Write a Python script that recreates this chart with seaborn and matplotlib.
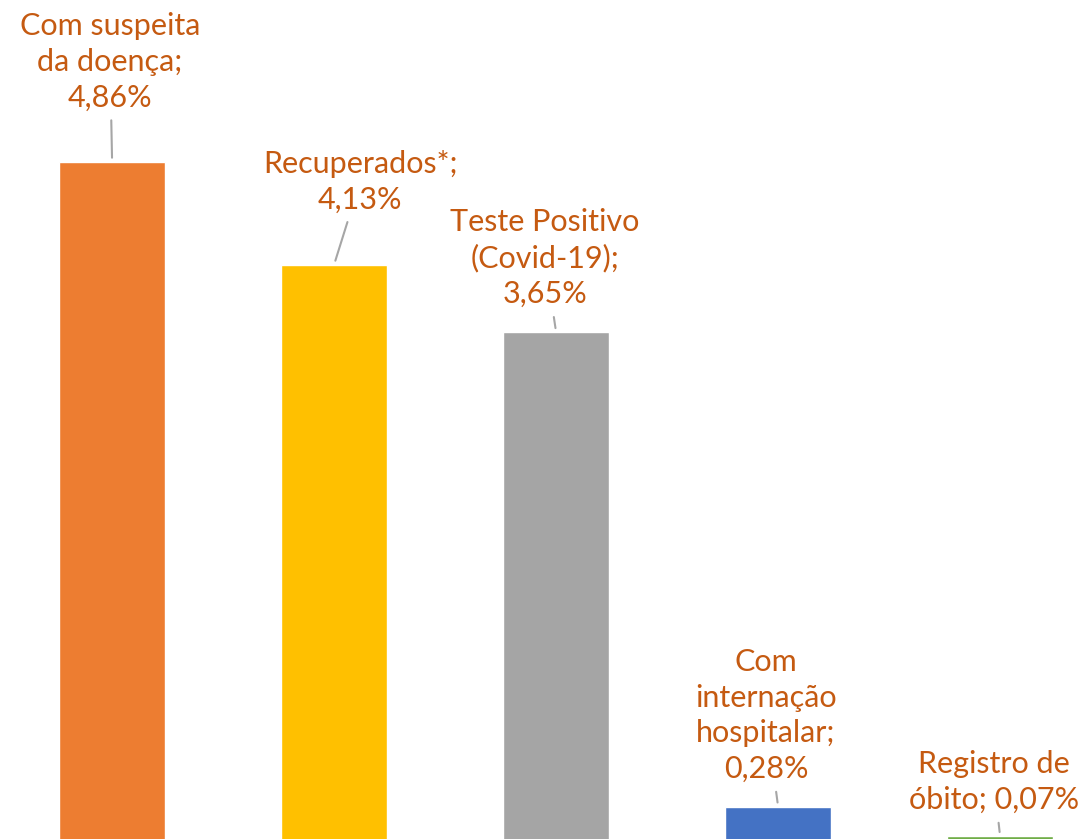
import matplotlib
matplotlib.use("Agg")
import matplotlib.pyplot as plt
import seaborn as sns
import pandas as pd

# data
categories = [
    "Com suspeita\nda doença",
    "Recuperados*",
    "Teste Positivo\n(Covid-19)",
    "Com\ninternação\nhospitalar",
    "Registro de\nóbito",
]
values = [4.86, 4.13, 3.65, 0.28, 0.07]
bar_colors = ["#ED7D31", "#FFC000", "#A5A5A5", "#4472C4", "#70AD47"]

# label text blocks (as shown in the chart)
label_texts = [
    "Com suspeita\nda doença;\n4,86%",
    "Recuperados*;\n4,13%",
    "Teste Positivo\n(Covid-19);\n3,65%",
    "Com\ninternação\nhospitalar;\n0,28%",
    "Registro de\nóbito; 0,07%",
]
# label offsets from bar top, in pixels
label_offsets = [(-2, 100), (26, 83), (-11, 74), (-12, 91), (-6, 54)]

df = pd.DataFrame({"categoria": categories, "valor": values})

sns.set_theme(style="white")
plt.rcParams["font.family"] = ["Lato", "DejaVu Sans"]

fig = plt.figure(figsize=(10.86, 8.39), dpi=100)
ax = fig.add_axes([0, 0, 1, 1])

sns.barplot(
    data=df, x="categoria", y="valor", hue="categoria",
    palette=bar_colors, width=0.48, legend=False, ax=ax,
    saturation=1,
)

for i, (txt, (dx, dy)) in enumerate(zip(label_texts, label_offsets)):
    ax.annotate(
        txt, xy=(i, values[i]), xytext=(dx, dy), textcoords="offset pixels",
        ha="center", va="center", multialignment="center",
        fontsize=22, fontweight="normal", color="#C55A11", linespacing=1.33,
        arrowprops=dict(arrowstyle="-", color="#A6A6A6", lw=1.5,
                        shrinkA=4, shrinkB=3),
    )

ax.set_xlim(-0.505, 4.387)
ax.set_ylim(0.05, 6.01)
ax.axis("off")

fig.savefig("out.png", dpi=100)
plt.close(fig)
